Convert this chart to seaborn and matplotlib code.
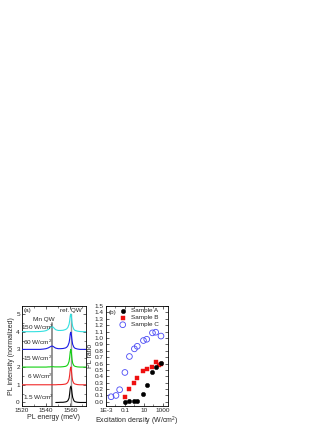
import numpy as np
import pandas as pd
import matplotlib
matplotlib.use('Agg')
import matplotlib.pyplot as plt
import seaborn as sns
from matplotlib.ticker import MultipleLocator, FixedLocator, NullFormatter

# ---------------- data ----------------
energy = [1520, 1525, 1530, 1535, 1538, 1540, 1542, 1543, 1544, 1545, 1546, 1547,
          1548, 1550, 1552, 1554, 1556, 1557, 1558, 1559, 1559.5, 1560, 1560.5,
          1561, 1561.5, 1562, 1563, 1564, 1566, 1568, 1570, 1573]
spec_150 = [0.0, 0.0, 0.0, 0.01, 0.03, 0.06, 0.13, 0.2, 0.26, 0.28, 0.25, 0.17,
            0.11, 0.07, 0.07, 0.08, 0.12, 0.16, 0.24, 0.42, 0.62, 0.90, 1.00,
            0.80, 0.50, 0.30, 0.13, 0.07, 0.03, 0.01, 0.0, 0.0]
spec_60 = [0.0, 0.0, 0.0, 0.0, 0.02, 0.04, 0.09, 0.13, 0.17, 0.19, 0.16, 0.11,
           0.07, 0.04, 0.04, 0.05, 0.08, 0.12, 0.20, 0.38, 0.58, 0.88, 0.97,
           0.78, 0.48, 0.28, 0.12, 0.06, 0.02, 0.0, 0.0, 0.0]
spec_15 = [0.0, 0.0, 0.0, 0.0, 0.0, 0.0, 0.01, 0.01, 0.02, 0.02, 0.02, 0.01,
           0.01, 0.01, 0.01, 0.02, 0.04, 0.07, 0.14, 0.32, 0.55, 0.88, 1.00,
           0.75, 0.42, 0.22, 0.08, 0.04, 0.01, 0.0, 0.0, 0.0]
spec_6 = [0.0, 0.0, 0.0, 0.0, 0.0, 0.0, 0.0, 0.0, 0.0, 0.0, 0.0, 0.0,
          0.0, 0.01, 0.01, 0.02, 0.04, 0.07, 0.14, 0.32, 0.55, 0.88, 1.00,
          0.75, 0.42, 0.22, 0.08, 0.04, 0.01, 0.0, 0.0, 0.0]
spec_1p5 = [np.nan, np.nan, np.nan, np.nan, np.nan, np.nan, np.nan, np.nan, np.nan, np.nan, np.nan, np.nan,
            0.0, 0.0, 0.01, 0.01, 0.03, 0.05, 0.10, 0.25, 0.50, 0.82, 0.92,
            0.80, 0.50, 0.28, 0.10, 0.04, 0.01, 0.0, 0.0, 0.0]
spectra = [spec_1p5, spec_6, spec_15, spec_60, spec_150]
offsets = [0, 1, 2, 3, 4]
power_labels = ['1.5 W/cm$^2$', '6 W/cm$^2$', '15 W/cm$^2$', '60 W/cm$^2$', '150 W/cm$^2$']
spec_colors = ['#000000', '#f02828', '#10d010', '#1a1ae6', '#33e0e0']

dens_A = [0.1, 0.3, 1, 2, 9, 20, 80, 175, 630]
ratio_A = [0.0, 0.01, 0.02, 0.02, 0.13, 0.27, 0.47, 0.54, 0.61]
dens_B = [0.1, 0.3, 1, 2, 9, 20, 80, 175, 350, 630]
ratio_B = [0.08, 0.2, 0.29, 0.38, 0.49, 0.52, 0.55, 0.62, 0.57, 0.59]
dens_C = [0.0035, 0.0115, 0.028, 0.1, 0.3, 1, 2, 9, 20, 80, 175, 630]
ratio_C = [0.08, 0.1, 0.19, 0.46, 0.71, 0.83, 0.87, 0.96, 0.98, 1.08, 1.09, 1.03]

# ---------------- style ----------------
sns.set_style('ticks')
plt.rcParams['font.family'] = ['Liberation Sans', 'DejaVu Sans']
plt.rcParams['mathtext.fontset'] = 'custom'
plt.rcParams['mathtext.rm'] = 'Liberation Sans'
plt.rcParams['mathtext.it'] = 'Liberation Sans:italic'
FS = 4.6

fig = plt.figure(figsize=(3.32, 4.30), dpi=100)
axa = fig.add_axes([0.066, 0.0558, 0.193, 0.2325])
axb = fig.add_axes([0.319, 0.0558, 0.186, 0.2325])

# ---------------- panel (a) ----------------
axa.axvline(1545, color='#8c8c8c', lw=1.3, ymax=0.83, zorder=1)
axa.axvline(1560.5, color='#9a9a9a', lw=1.0, ymax=0.92, zorder=1)
for spec, off, col in zip(spectra, offsets, spec_colors):
    df = pd.DataFrame({'E': energy, 'I': np.array(spec, dtype=float) + off})
    sns.lineplot(data=df, x='E', y='I', ax=axa, color=col, lw=0.8,
                 estimator=None, sort=False, zorder=3)
axa.set_xlim(1520, 1573)
axa.set_ylim(-0.2, 5.45)
axa.xaxis.set_major_locator(FixedLocator([1520, 1540, 1560]))
axa.xaxis.set_minor_locator(MultipleLocator(10))
axa.yaxis.set_major_locator(MultipleLocator(1))
axa.yaxis.set_minor_locator(MultipleLocator(0.5))
axa.set_xlabel('PL energy (meV)', fontsize=FS + 0.4, labelpad=1)
axa.set_ylabel('PL intensity (normalized)', fontsize=FS + 0.4, labelpad=1)

label_pos = [(1521, 0.28), (1524, 1.5), (1521, 2.5), (1521, 3.38), (1519.6, 4.25)]
for (x, y), txt in zip(label_pos, power_labels):
    axa.text(x, y, txt, fontsize=FS, ha='left', va='center', zorder=5)
axa.text(1521.3, 5.2, '(a)', fontsize=FS, ha='left', va='center')
axa.text(1560.5, 5.2, 'ref. QW', fontsize=FS, ha='center', va='center')
axa.text(1538.5, 4.7, 'Mn QW', fontsize=FS, ha='center', va='center')

# ---------------- panel (b) ----------------
dfA = pd.DataFrame({'x': dens_A, 'y': ratio_A})
dfB = pd.DataFrame({'x': dens_B, 'y': ratio_B})
dfC = pd.DataFrame({'x': dens_C, 'y': ratio_C})
sns.scatterplot(data=dfA, x='x', y='y', ax=axb, marker='o', s=10, color='black',
                edgecolor='black', linewidth=0.3, label='Sample A', zorder=4)
sns.scatterplot(data=dfB, x='x', y='y', ax=axb, marker='s', s=8, color='#ee1010',
                edgecolor='#ee1010', linewidth=0.3, label='Sample B', zorder=3)
sns.scatterplot(data=dfC, x='x', y='y', ax=axb, marker='o', s=17, facecolor='none',
                edgecolor='#4a4af5', linewidth=0.6, label='Sample C', zorder=3)
axb.set_xscale('log')
axb.set_xlim(1e-3, 3.2e3)
axb.set_ylim(-0.065, 1.5)
axb.xaxis.set_major_locator(FixedLocator([1e-3, 1e-1, 1e1, 1e3]))
axb.set_xticklabels(['1E-3', '0.1', '10', '1000'])
axb.xaxis.set_minor_locator(FixedLocator([1e-2, 1, 1e2]))
axb.xaxis.set_minor_formatter(NullFormatter())
axb.yaxis.set_major_locator(FixedLocator(np.round(np.arange(0, 1.51, 0.1), 1)))
axb.set_yticklabels([f'{v:.1f}' for v in np.arange(0, 1.51, 0.1)])
axb.set_xlabel('Excitation density (W/cm$^2$)', fontsize=FS + 0.4, labelpad=1)
axb.set_ylabel('PL ratio', fontsize=FS + 0.4, labelpad=0.5)
axb.text(0.04, 0.94, '(b)', transform=axb.transAxes, fontsize=FS, ha='left', va='center')
leg = axb.legend(loc='upper left', bbox_to_anchor=(0.2, 0.995), frameon=False,
                 fontsize=FS, handlelength=1.0, handletextpad=0.8,
                 labelspacing=0.25, borderpad=0.2, borderaxespad=0)

for ax in (axa, axb):
    ax.tick_params(which='both', direction='in', top=True, right=True,
                   labelsize=FS, pad=1.5)
    ax.tick_params(which='major', length=2, width=0.5)
    ax.tick_params(which='minor', length=1.2, width=0.4)
    for sp in ax.spines.values():
        sp.set_linewidth(0.6)
        sp.set_color('black')

fig.savefig('out.png', dpi=100)
